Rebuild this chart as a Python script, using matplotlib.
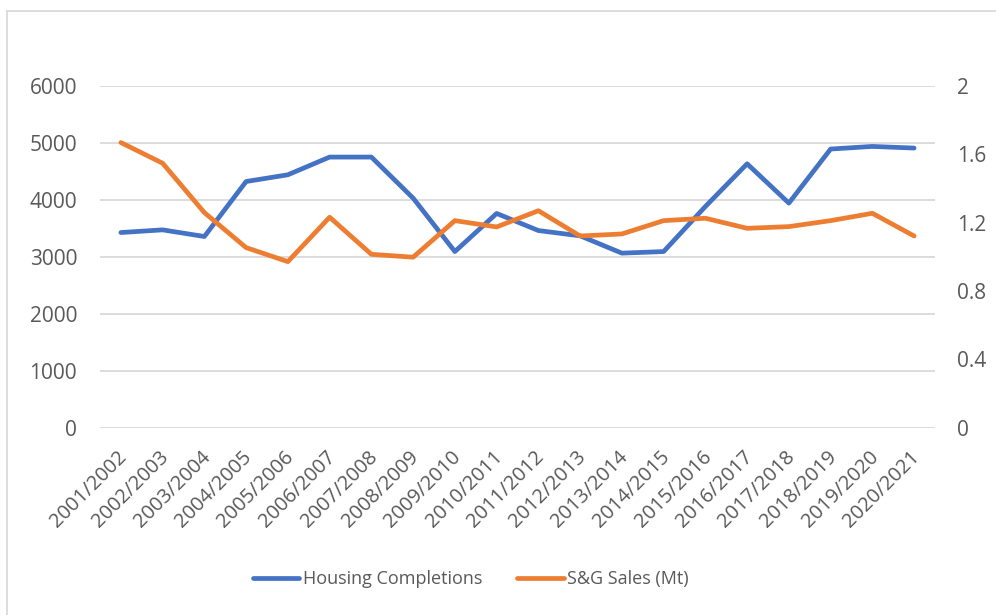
import matplotlib.pyplot as plt
import matplotlib.transforms as mtransforms
from matplotlib.patches import Rectangle

years = ["2001/2002", "2002/2003", "2003/2004", "2004/2005", "2005/2006",
         "2006/2007", "2007/2008", "2008/2009", "2009/2010", "2010/2011",
         "2011/2012", "2012/2013", "2013/2014", "2014/2015", "2015/2016",
         "2016/2017", "2017/2018", "2018/2019", "2019/2020", "2020/2021"]

housing = [3427, 3474, 3357, 4323, 4441, 4752, 4752, 4031, 3093, 3762,
           3462, 3369, 3065, 3093, 3884, 4634, 3944, 4893, 4939, 4910]

sg_sales = [1.669, 1.548, 1.259, 1.054, 0.972, 1.232, 1.015, 0.998, 1.212, 1.175,
            1.270, 1.122, 1.134, 1.212, 1.226, 1.167, 1.177, 1.212, 1.255, 1.122]

plt.rcParams['font.family'] = ['Open Sans', 'DejaVu Sans']
grey = '#595959'

fig = plt.figure(figsize=(9.96, 6.15), dpi=100)
ax = fig.add_axes([100/996, 1-427.7/615, 835/996, (427.7-86)/615])
ax2 = ax.twinx()

x = list(range(len(years)))
l1, = ax.plot(x, housing, color='#4472C4', lw=3.4, solid_capstyle='round',
              solid_joinstyle='round', label='Housing Completions')
l2, = ax2.plot(x, sg_sales, color='#ED7D31', lw=3.4, solid_capstyle='round',
               solid_joinstyle='round', label='S&G Sales (Mt)')

ax.set_xlim(-0.5, len(years) - 0.5)
ax.set_ylim(0, 6000)
ax.set_yticks(range(0, 6001, 1000))
ax2.set_ylim(0, 2)
ax2.set_yticks([0, 0.4, 0.8, 1.2, 1.6, 2])
ax2.set_yticklabels(['0', '0.4', '0.8', '1.2', '1.6', '2'])

ax.grid(axis='y', color='#D9D9D9', lw=1.3)
ax.set_axisbelow(True)
for a in (ax, ax2):
    for s in a.spines.values():
        s.set_visible(False)
    a.tick_params(length=0, labelcolor=grey)
ax.tick_params(axis='y', labelsize=15, pad=16.5)
ax2.yaxis.set_tick_params(which='both', labelsize=15, pad=16, labelright=True)

ax.set_xticks(x)
ax.set_xticklabels(years, rotation=45, ha='right', rotation_mode='anchor')
ax.tick_params(axis='x', labelsize=14.5, pad=14)
shift = mtransforms.ScaledTranslation(-4/100, 0, fig.dpi_scale_trans)
for lab in ax.get_xticklabels():
    lab.set_transform(lab.get_transform() + shift)

fig.legend(handles=[l1, l2], loc='center', bbox_to_anchor=(471/996, 1-579/615),
           ncol=2, frameon=False, fontsize=13, handlelength=2.55,
           handletextpad=0.2, columnspacing=1.95, labelcolor=grey)

fig.patches.append(Rectangle((7/996, -0.1), 1.1, 1.1 - 11/615,
                             transform=fig.transFigure, fill=False,
                             edgecolor='#D9D9D9', lw=1.3))

fig.savefig('out.png', dpi=100)
